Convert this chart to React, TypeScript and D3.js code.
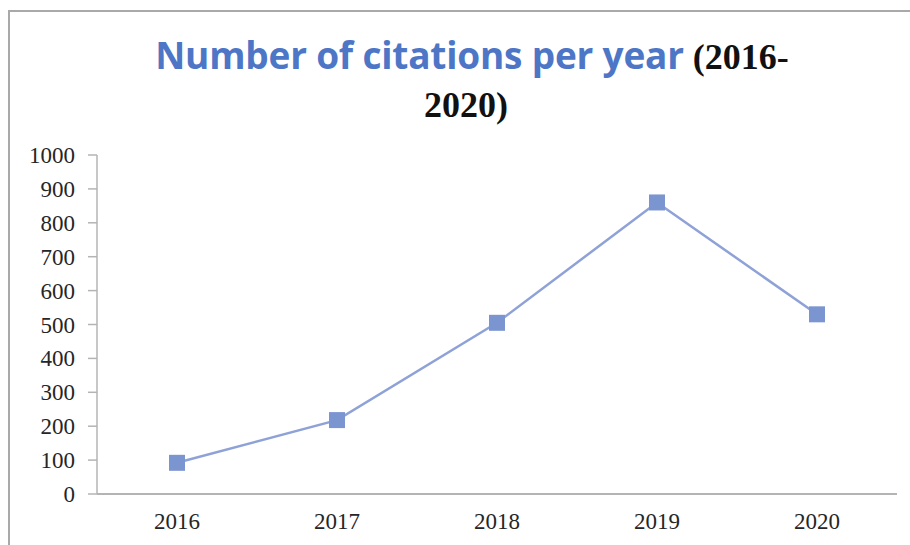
import React from 'react';
import * as d3 from 'd3';

const years = ['2016', '2017', '2018', '2019', '2020'];
const citations = [92, 218, 505, 860, 530];
const yTicks = [0, 100, 200, 300, 400, 500, 600, 700, 800, 900, 1000];

const W = 910;
const H = 545;
const margin = { left: 97, right: 13, top: 155, bottom: 51 };

const App: React.FC = () => {
  const x = d3.scaleBand<string>().domain(years).range([margin.left, W - margin.right]);
  const y = d3.scaleLinear().domain([0, 1000]).range([H - margin.bottom, margin.top]);
  const cx = (yr: string) => (x(yr) ?? 0) + x.bandwidth() / 2;

  const line = d3.line<number>()
    .x((_, i) => cx(years[i]))
    .y(d => y(d));

  const axisColor = '#b4b4b4';
  const serif = '"Liberation Serif", "Times New Roman", serif';

  return (
    <svg width={W} height={H} style={{ position: 'absolute', left: 0, top: 0, background: '#fff' }}>
      {/* chart frame: only the top and left edges are inside the crop */}
      <path d={`M9,${H}V11H${W}`} fill="none" stroke="#a9a9a9" strokeWidth={2} />

      {/* title */}
      <text x={472} y={69} textAnchor="middle">
        <tspan fontFamily='"Open Sans", sans-serif' fontWeight={700} fontSize={37} fill="#4d76c6" letterSpacing={-0.2}>
          Number of citations per year
        </tspan>
        <tspan fontFamily={serif} fontWeight={700} fontSize={36} fill="#111"> (2016-</tspan>
      </text>
      <text x={466} y={117} textAnchor="middle" fontFamily={serif} fontWeight={700} fontSize={36} fill="#111">
        2020)
      </text>

      {/* y axis */}
      <line x1={margin.left} x2={margin.left} y1={y(1000)} y2={y(0)} stroke={axisColor} strokeWidth={1.5} />
      {yTicks.map(t => (
        <g key={t}>
          <line x1={margin.left - 9} x2={margin.left} y1={y(t)} y2={y(t)} stroke={axisColor} strokeWidth={1.5} />
          <text x={75} y={y(t)} dy="0.35em" textAnchor="end" fontFamily={serif} fontSize={23} fill="#262626">
            {t}
          </text>
        </g>
      ))}

      {/* x axis */}
      <line x1={margin.left} x2={W - margin.right} y1={y(0)} y2={y(0)} stroke={axisColor} strokeWidth={2} />
      {years.map(yr => (
        <text key={yr} x={cx(yr)} y={521} dy="0.35em" textAnchor="middle"
          fontFamily={serif} fontSize={23} fill="#262626">
          {yr}
        </text>
      ))}

      {/* series */}
      <path d={line(citations) ?? ''} fill="none" stroke="#8fa2d8" strokeWidth={2.5} />
      {citations.map((v, i) => (
        <rect key={years[i]} x={cx(years[i]) - 8} y={y(v) - 8} width={16} height={16} fill="#7b95d0" />
      ))}
    </svg>
  );
};

export default App;
